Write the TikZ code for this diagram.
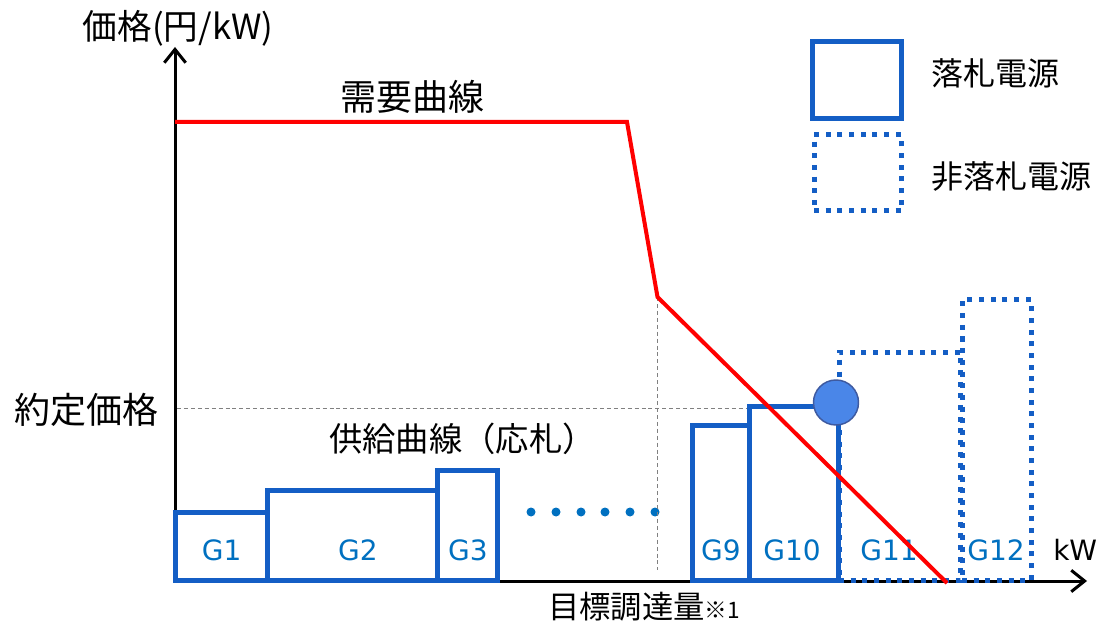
\documentclass[tikz,border=0pt]{standalone}
\usepackage{fontspec}
\setmainfont{Noto Sans CJK JP}
\newfontfamily\gfont{DejaVu Sans}
\usetikzlibrary{arrows.meta,fit}
\definecolor{boxblue}{RGB}{20,94,197}
\definecolor{txtblue}{RGB}{0,112,192}
\definecolor{winfill}{RGB}{74,134,232}
\definecolor{winline}{RGB}{62,90,160}
\definecolor{dashgray}{RGB}{128,128,128}
\begin{document}
\begin{tikzpicture}[x=0.75pt,y=-0.75pt,
  axisline/.style={line width=2.25pt,-{Straight Barb[length=10pt,width=16pt]}},
  demand/.style={draw=red,line width=3pt},
  guide/.style={draw=dashgray,line width=0.8pt,dash pattern=on 3pt off 2.2pt},
  bidbox/.style={draw=boxblue,line width=3.75pt,inner sep=0pt,outer sep=0pt},
  nobid/.style={draw=boxblue,line width=3.75pt,dash pattern=on 3.75pt off 5pt,inner sep=0pt,outer sep=0pt},
  glabel/.style={font=\gfont\fontsize{21}{24}\selectfont,text=txtblue,inner sep=0pt},
  jp/.style={inner sep=0pt,text=black},
  dotn/.style={circle,fill=txtblue,inner sep=0pt,minimum size=6.75pt},
  win/.style={circle,draw=winline,fill=winfill,line width=1.1pt,inner sep=0pt,minimum size=33.75pt}
]
\useasboundingbox (0,0) rectangle (1097,624);

% axes
\coordinate (O) at (175,582.5);
\coordinate (Oh) at (174,581);
\coordinate (ytop) at (175,47);
\coordinate (xend) at (1087,581);
\draw[axisline] (O) -- (ytop);
\draw[axisline] (Oh) -- (xend);

% guide lines
\coordinate (d0) at (175,122);
\coordinate (d1) at (627,122);
\coordinate (d2) at (657.5,297);
\coordinate (d3) at (947,583);
\coordinate (v1) at (657.5,570);
\coordinate (h0) at (177,408.5);
\coordinate (h1) at (748,408.5);

% dots
\foreach \xx [count=\i] in {531,556,581,605,630,655}
  \node[dotn] (dot\i) at (\xx,512) {};

\draw[guide] (d2) -- (v1);
\draw[guide] (h0) -- (h1);

% non-winning bids
\node[nobid,fit={(839,352) (960,580.5)}] (g11) {};
\node[nobid,fit={(962,300) (1031,580.5)}] (g12) {};

% winning bids
\node[bidbox,fit={(175.5,512.5) (267,580.5)}] (g1) {};
\node[bidbox,fit={(267,490.5) (437.5,580.5)}] (g2) {};
\node[bidbox,fit={(437.5,470.5) (497.5,580.5)}] (g3) {};
\node[bidbox,fit={(692,425.5) (749.5,580.5)}] (g9) {};
\node[bidbox,fit={(749.5,406.5) (838.5,580.5)}] (g10) {};

% labels
\node[glabel] (l1) at (221.7,550) {G1};
\node[glabel] (l2) at (358,550) {G2};
\node[glabel] (l3) at (468,550) {G3};
\node[glabel] (l9) at (721,550) {G9};
\node[glabel] (l10) at (792,550) {G10};
\node[glabel] (l11) at (889,550) {G11};
\node[glabel] (l12) at (996,550) {G12};

% clearing point
\node[win] (win) at (836,402.5) {};

% demand curve
\draw[demand] (d0) -- (d1) -- (d2) -- (d3);

% texts
\node[jp,font=\fontsize{26}{30}\selectfont] (ylab) at (178,28) {価格(円/kW)};
\node[jp,font=\fontsize{27}{31}\selectfont] (dem) at (412,97) {需要曲線};
\node[jp,font=\fontsize{27}{31}\selectfont] (price) at (87,410) {約定価格};
\node[jp,font=\fontsize{25}{29}\selectfont,anchor=west] (sup) at (329,439) {供給曲線（応札）};
\node[jp,font=\fontsize{23.5}{27}\selectfont,anchor=west] (tgt) at (548,607) {目標調達量{\fontsize{17}{20}\selectfont ※1}};
\node[inner sep=0pt,font=\gfont\fontsize{21}{24}\selectfont,anchor=base west] (kw) at (1053,560) {kW};

% legend
\node[bidbox,fit={(812.5,41.5) (901.5,118.5)}] (leg1) {};
\node[nobid,fit={(814,135) (901,211)}] (leg2) {};
\node[jp,font=\fontsize{24}{28}\selectfont,anchor=west] (legt1) at (931,73) {落札電源};
\node[jp,font=\fontsize{24}{28}\selectfont,anchor=west] (legt2) at (931,177) {非落札電源};
\end{tikzpicture}
\end{document}
